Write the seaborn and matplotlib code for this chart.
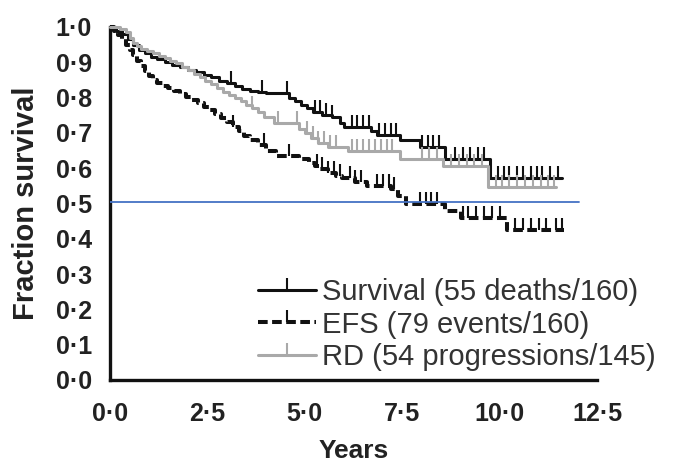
import numpy as np
import pandas as pd
import matplotlib
matplotlib.use("Agg")
import matplotlib.pyplot as plt
from matplotlib.lines import Line2D
import seaborn as sns

# ---------------- data ----------------
surv_t = [0, 0.15, 0.3, 0.45, 0.6, 0.75, 0.9, 1.05, 1.2, 1.4, 1.6, 1.8, 2.0, 2.2, 2.4, 2.6,
          2.8, 3.0, 3.2, 3.4, 3.6, 3.8, 4.0, 4.6, 4.75, 4.9, 5.05, 5.2, 5.45, 5.7, 5.9, 6.0,
          6.7, 6.85, 7.45, 7.95, 8.6, 9.75, 11.6]
surv_s = [1.0, 0.99, 0.98, 0.965, 0.948, 0.935, 0.925, 0.915, 0.908, 0.9, 0.893, 0.886, 0.879,
          0.872, 0.865, 0.857, 0.848, 0.84, 0.832, 0.825, 0.82, 0.816, 0.813, 0.80, 0.79, 0.78,
          0.77, 0.76, 0.752, 0.745, 0.728, 0.717, 0.705, 0.695, 0.68, 0.66, 0.625, 0.572, 0.572]
surv_c = [3.1, 3.9, 4.55, 5.25, 5.4, 5.55, 5.7, 6.2, 6.35, 6.5, 6.65, 6.9, 7.05, 7.2, 7.35,
          8.0, 8.15, 8.3, 8.45, 8.85, 9.05, 9.25, 9.45, 9.6, 9.95, 10.1, 10.25, 10.45, 10.6,
          10.8, 10.95, 11.1, 11.3, 11.5]

efs_t = [0, 0.1, 0.2, 0.3, 0.4, 0.5, 0.6, 0.7, 0.8, 0.9, 1.0, 1.1, 1.2, 1.35, 1.5, 1.65, 1.8,
         1.95, 2.1, 2.25, 2.4, 2.55, 2.7, 2.85, 3.0, 3.15, 3.3, 3.45, 3.6, 3.8, 4.0, 4.25, 4.85,
         5.1, 5.25, 5.4, 5.6, 5.8, 5.95, 6.3, 6.6, 7.2, 7.4, 7.6, 8.6, 9.0, 10.2, 11.65]
efs_s = [1.0, 0.99, 0.978, 0.965, 0.95, 0.935, 0.92, 0.905, 0.89, 0.875, 0.862, 0.85, 0.842,
         0.834, 0.826, 0.818, 0.81, 0.802, 0.793, 0.784, 0.774, 0.764, 0.753, 0.741, 0.73,
         0.718, 0.705, 0.692, 0.68, 0.665, 0.65, 0.635, 0.625, 0.615, 0.605, 0.597, 0.587,
         0.579, 0.572, 0.562, 0.55, 0.54, 0.52, 0.498, 0.48, 0.46, 0.425, 0.425]
efs_c = [3.15, 3.95, 4.6, 5.3, 5.45, 5.6, 5.75, 5.9, 6.15, 6.3, 6.45, 6.85, 7.0, 7.15, 7.3,
         7.95, 8.1, 8.25, 8.4, 9.05, 9.2, 9.4, 9.6, 9.8, 10.0, 10.4, 10.6, 10.8, 11.0, 11.2,
         11.45, 11.6]

rd_t = [0, 0.25, 0.4, 0.5, 0.6, 0.7, 0.8, 0.95, 1.1, 1.25, 1.4, 1.55, 1.7, 1.85, 2.0, 2.15,
        2.3, 2.45, 2.6, 2.75, 2.9, 3.05, 3.2, 3.35, 3.5, 3.65, 3.8, 3.95, 4.2, 4.85, 5.0, 5.15,
        5.35, 5.6, 6.1, 7.45, 8.55, 9.7, 11.45]
rd_s = [1.0, 0.993, 0.985, 0.97, 0.955, 0.945, 0.938, 0.932, 0.925, 0.918, 0.911, 0.904,
        0.897, 0.888, 0.878, 0.868, 0.858, 0.848, 0.838, 0.827, 0.817, 0.807, 0.798, 0.789,
        0.78, 0.77, 0.758, 0.745, 0.728, 0.712, 0.70, 0.685, 0.67, 0.66, 0.648, 0.625, 0.605,
        0.548, 0.548]
rd_c = [3.65, 4.3, 4.8, 5.05, 5.2, 5.35, 5.5, 5.65, 5.8, 6.2, 6.35, 6.5, 6.65, 6.8, 6.95, 7.1,
        7.25, 8.0, 8.2, 8.4, 8.75, 8.95, 9.15, 9.35, 9.55, 9.9, 10.05, 10.25, 10.45, 10.65,
        10.85, 11.05, 11.25, 11.4]

ref_level = 0.505
ref_end = 12.05

labels = ["Survival (55 deaths/160)", "EFS (79 events/160)", "RD (54 progressions/145)"]
x_ticks = [0.0, 2.5, 5.0, 7.5, 10.0, 12.5]
y_ticks = [0.0, 0.1, 0.2, 0.3, 0.4, 0.5, 0.6, 0.7, 0.8, 0.9, 1.0]
x_label = "Years"
y_label = "Fraction survival"

# ---------------- styling ----------------
sns.set_style("white")
plt.rcParams['font.family'] = ['Liberation Sans', 'DejaVu Sans']

fig = plt.figure(figsize=(6.89, 4.63), dpi=100)
ax = fig.add_axes([0.1597, 0.1793, 0.8665 - 0.1597, 0.9417 - 0.1793])

BLACK = "#111111"
GRAY = "#a9a9a9"
BLUE = "#4472C4"

series = [
    (surv_t, surv_s, surv_c, BLACK, "-"),
    (efs_t, efs_s, efs_c, BLACK, (0, (2.4, 1.1))),
    (rd_t, rd_s, rd_c, GRAY, "-"),
]
order = [2, 1, 0]  # draw gray first
for i in order:
    t, s, c, col, ls = series[i]
    lw = 2.9 if i == 1 else 2.2
    df = pd.DataFrame({"t": t, "s": s})
    sns.lineplot(data=df, x="t", y="s", estimator=None, sort=False, ax=ax,
                 drawstyle="steps-post", color=col, linestyle=ls, linewidth=lw,
                 clip_on=False, zorder=3 + i)
    tt = np.asarray(t)
    ss = np.asarray(s)
    idx = np.searchsorted(tt, np.asarray(c), side="right") - 1
    cdf = pd.DataFrame({"t": c, "s": ss[idx]})
    sns.lineplot(data=cdf, x="t", y="s", estimator=None, sort=False, ax=ax,
                 linestyle="none", marker=2, markersize=9, markeredgewidth=1.5,
                 markeredgecolor=col, color=col, zorder=3 + i)

ref_df = pd.DataFrame({"t": [0, ref_end], "s": [ref_level, ref_level]})
sns.lineplot(data=ref_df, x="t", y="s", estimator=None, ax=ax, color=BLUE,
             linewidth=1.3, zorder=10)

ax.set_xlim(0, 12.5)
ax.set_ylim(0, 1.0)
ax.set_xticks(x_ticks)
ax.set_yticks(y_ticks)
ax.set_xticklabels([f"{v:.1f}".replace(".", "\u00b7") for v in x_ticks])
ax.set_yticklabels([f"{v:.1f}".replace(".", "\u00b7") for v in y_ticks])
ax.tick_params(axis="both", direction="out", length=9, width=2.4, color=BLACK,
               labelsize=18, labelcolor="#222222", pad=4)
ax.tick_params(axis="x", pad=7)
for lab in ax.get_xticklabels() + ax.get_yticklabels():
    lab.set_fontweight("bold")

sns.despine(ax=ax)
for sp in ["left", "bottom"]:
    ax.spines[sp].set_linewidth(2.4)
    ax.spines[sp].set_color(BLACK)

ax.set_xlabel(x_label, fontsize=19, fontweight="bold", color="#222222", labelpad=9)
ax.set_ylabel(y_label, fontsize=21, fontweight="bold", color="#222222", labelpad=11)

handles = [
    Line2D([], [], color=BLACK, lw=2.2, marker=2, ms=9, mew=1.5),
    Line2D([], [], color=BLACK, lw=2.9, ls=(0, (2.4, 1.1)), marker=2, ms=9, mew=1.5),
    Line2D([], [], color=GRAY, lw=2.2, marker=2, ms=9, mew=1.5),
]
leg = ax.legend(handles, labels, loc="upper left", bbox_to_anchor=(258 / 689, 1 - 278 / 463),
                bbox_transform=fig.transFigure, frameon=False, fontsize=21,
                handlelength=2.0, handletextpad=0.2, labelspacing=0.16, borderpad=0,
                borderaxespad=0, numpoints=1)
for txt in leg.get_texts():
    txt.set_color("#333333")

fig.savefig("out.png", dpi=100)
